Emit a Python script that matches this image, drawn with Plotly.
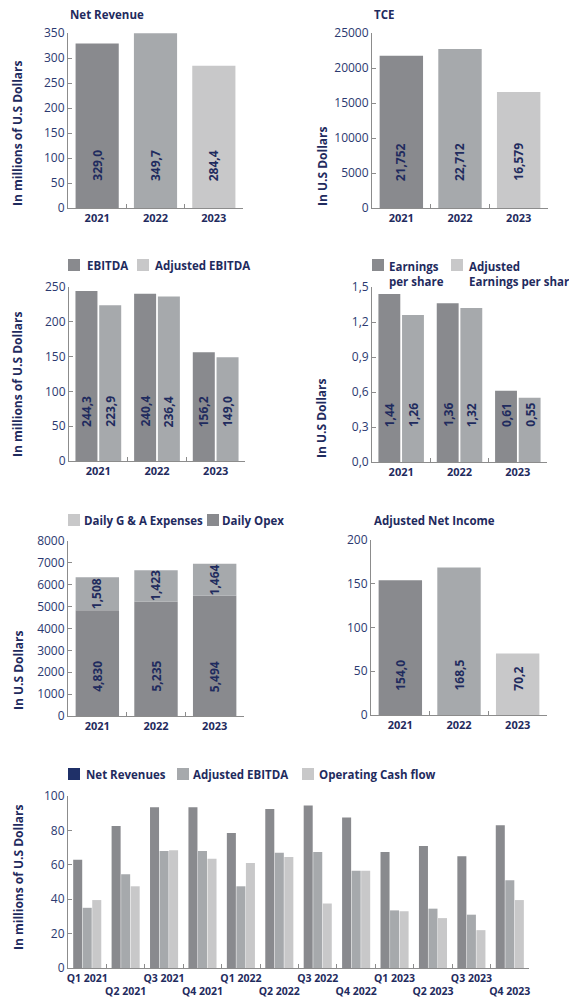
import plotly.graph_objects as go

# ---------------- data ----------------
years = ["2021", "2022", "2023"]
net_revenue = [329.0, 349.7, 284.4]
tce = [21752, 22712, 16579]
ebitda = [244.3, 240.4, 156.2]
adj_ebitda = [223.9, 236.4, 149.0]
eps = [1.44, 1.36, 0.61]
adj_eps = [1.26, 1.32, 0.55]
daily_opex = [4830, 5235, 5494]
daily_ga = [1508, 1423, 1464]
adj_net_income = [154.0, 168.5, 70.2]

quarters = ["Q1 2021", "Q2 2021", "Q3 2021", "Q4 2021",
            "Q1 2022", "Q2 2022", "Q3 2022", "Q4 2022",
            "Q1 2023", "Q2 2023", "Q3 2023", "Q4 2023"]
q_net_rev = [63, 82.5, 93.5, 93.5, 78.5, 92.5, 94.5, 87.5, 67.5, 71, 65, 83]
q_adj_ebitda = [35, 54.5, 68, 68, 47.5, 67, 67.5, 56.5, 33.5, 34.5, 31, 51]
q_ocf = [39.5, 47.5, 68.5, 63.5, 61, 64.5, 37.5, 56.5, 33, 29, 22, 39.5]

nr_ticks = [0, 50, 100, 150, 200, 250, 300, 350]
tce_ticks = [0, 5000, 10000, 15000, 20000, 25000]
ebitda_ticks = [0, 50, 100, 150, 200, 250]
eps_ticks = [0.0, 0.3, 0.6, 0.9, 1.2, 1.5]
eps_ticklabels = ["0,0", "0,3", "0,6", "0,9", "1,2", "1,5"]
opex_ticks = [0, 1000, 2000, 3000, 4000, 5000, 6000, 7000, 8000]
ani_ticks = [0, 50, 100, 150, 200]
q_ticks = [0, 20, 40, 60, 80, 100]

# ---------------- style ----------------
W, H = 569, 998
FONT = "Open Sans"
NAVY = "#1f2b5e"
TICKNAVY = "#2b3970"
AXIS = "#8c8c8c"
DARK = "#898a8e"
MID = "#a6a9ac"
LIGHT = "#c8c8c9"
NAVY_SW = "#1f3068"


def px_x(a, b):
    return [a / W, b / W]


def px_y(top, bottom):
    return [1 - bottom / H, 1 - top / H]


def fx(p):
    return p / W


def fy(p):
    return 1 - p / H


def dec1(v):
    return f"{v:.1f}".replace(".", ",")


def dec2(v):
    return f"{v:.2f}".replace(".", ",")


def thou(v):
    return f"{v:,}"


fig = go.Figure()
annotations = []
shapes = []

panels = {
    1: (px_x(68, 243), px_y(33, 208)),
    2: (px_x(372, 548), px_y(33, 208)),
    3: (px_x(69, 245), px_y(287, 461)),
    4: (px_x(372, 547), px_y(287, 462)),
    5: (px_x(68, 244), px_y(541, 716)),
    6: (px_x(371, 547), px_y(540, 715)),
    7: (px_x(68, 529), px_y(796, 968)),
}


def ax(n):
    return ("x" if n == 1 else f"x{n}"), ("y" if n == 1 else f"y{n}")


def bar_label(n, x, y, text, yshift=0, yanchor="bottom"):
    xr, yr = ax(n)
    annotations.append(dict(
        x=x, y=y, xref=xr, yref=yr, text=text, showarrow=False,
        textangle=-90, yanchor=yanchor, xanchor="center", yshift=yshift,
        font=dict(family=FONT, size=12, color=NAVY, weight="bold")))


SINGLE_W = 0.74

# ---- Panel 1: Net Revenue ----
fig.add_trace(go.Bar(x=years, y=net_revenue, xaxis="x", yaxis="y",
                     marker=dict(color=[DARK, MID, LIGHT], line=dict(width=0)),
                     width=SINGLE_W, showlegend=False))
for i, v in enumerate(net_revenue):
    bar_label(1, i, 0, dec1(v), yshift=25)

# ---- Panel 2: TCE ----
fig.add_trace(go.Bar(x=years, y=tce, xaxis="x2", yaxis="y2",
                     marker=dict(color=[DARK, MID, LIGHT], line=dict(width=0)),
                     width=SINGLE_W, showlegend=False))
for i, v in enumerate(tce):
    bar_label(2, i, 0, thou(v), yshift=25)

# ---- Panel 3: EBITDA ----
GW, G1, G2 = 0.375, -0.39, 0.015
fig.add_trace(go.Bar(x=years, y=ebitda, xaxis="x3", yaxis="y3",
                     marker=dict(color=DARK, line=dict(width=0)),
                     width=GW, offset=G1, showlegend=False))
fig.add_trace(go.Bar(x=years, y=adj_ebitda, xaxis="x3", yaxis="y3",
                     marker=dict(color=MID, line=dict(width=0)),
                     width=GW, offset=G2, showlegend=False))
for i, v in enumerate(ebitda):
    bar_label(3, i + G1 + GW / 2, 0, dec1(v), yshift=32)
for i, v in enumerate(adj_ebitda):
    bar_label(3, i + G2 + GW / 2, 0, dec1(v), yshift=32)

# ---- Panel 4: EPS ----
fig.add_trace(go.Bar(x=years, y=eps, xaxis="x4", yaxis="y4",
                     marker=dict(color=DARK, line=dict(width=0)),
                     width=GW, offset=G1, showlegend=False))
fig.add_trace(go.Bar(x=years, y=adj_eps, xaxis="x4", yaxis="y4",
                     marker=dict(color=MID, line=dict(width=0)),
                     width=GW, offset=G2, showlegend=False))
for i, v in enumerate(eps):
    bar_label(4, i + G1 + GW / 2, 0, dec2(v), yshift=33)
for i, v in enumerate(adj_eps):
    bar_label(4, i + G2 + GW / 2, 0, dec2(v), yshift=33)

# ---- Panel 5: Daily opex stacked ----
fig.add_trace(go.Bar(x=years, y=daily_opex, xaxis="x5", yaxis="y5",
                     marker=dict(color=DARK, line=dict(width=0)),
                     width=SINGLE_W, offset=-SINGLE_W / 2, showlegend=False))
fig.add_trace(go.Bar(x=years, y=daily_ga, base=daily_opex, xaxis="x5", yaxis="y5",
                     marker=dict(color=MID, line=dict(width=0)),
                     width=SINGLE_W, offset=-SINGLE_W / 2, showlegend=False))
for i, v in enumerate(daily_opex):
    bar_label(5, i, 0, thou(v), yshift=22)
for i, (b, v) in enumerate(zip(daily_opex, daily_ga)):
    bar_label(5, i, b + v / 2, thou(v), yanchor="middle")

# ---- Panel 6: Adjusted Net Income ----
fig.add_trace(go.Bar(x=years, y=adj_net_income, xaxis="x6", yaxis="y6",
                     marker=dict(color=[DARK, MID, LIGHT], line=dict(width=0)),
                     width=SINGLE_W, showlegend=False))
for i, v in enumerate(adj_net_income):
    bar_label(6, i, 0, dec1(v), yshift=22)

# ---- Panel 7: quarterly ----
QW = 0.235
QO = [-0.365, -0.117, 0.131]
for vals, col, off in [(q_net_rev, DARK, QO[0]), (q_adj_ebitda, MID, QO[1]), (q_ocf, LIGHT, QO[2])]:
    fig.add_trace(go.Bar(x=quarters, y=vals, xaxis="x7", yaxis="y7",
                         marker=dict(color=col, line=dict(width=0)),
                         width=QW, offset=off, showlegend=False))

# ---------------- axes ----------------
yinfo = {
    1: (nr_ticks, [str(t) for t in nr_ticks]),
    2: (tce_ticks, [str(t) for t in tce_ticks]),
    3: (ebitda_ticks, [str(t) for t in ebitda_ticks]),
    4: (eps_ticks, eps_ticklabels),
    5: (opex_ticks, [str(t) for t in opex_ticks]),
    6: (ani_ticks, [str(t) for t in ani_ticks]),
    7: (q_ticks, [str(t) for t in q_ticks]),
}

layout_axes = {}
for n, (xdom, ydom) in panels.items():
    xr, yr = ax(n)
    xname = "xaxis" if n == 1 else f"xaxis{n}"
    yname = "yaxis" if n == 1 else f"yaxis{n}"
    tv, tt = yinfo[n]
    if n == 7:
        cats = quarters
        xticktext = [q if i % 2 == 0 else "<br>" + q for i, q in enumerate(quarters)]
        xfs = 10.5
    else:
        cats = years
        xticktext = years
        xfs = 11
    layout_axes[xname] = dict(
        domain=xdom, anchor=yr, type="category", range=[-0.5, len(cats) - 0.5],
        showgrid=False, zeroline=False, showline=True, linecolor=AXIS, linewidth=1,
        ticks="inside", tickson="boundaries", ticklen=4, tickcolor=AXIS, tickwidth=1,
        tickmode="array", tickvals=cats, ticktext=xticktext, tickangle=0,
        tickfont=dict(family=FONT, size=xfs, color=NAVY, weight="bold"),
        fixedrange=True)
    layout_axes[yname] = dict(
        domain=ydom, anchor=xr, range=[0, tv[-1]],
        showgrid=False, zeroline=False, showline=True, linecolor=AXIS, linewidth=1,
        ticks="inside", ticklen=4, tickcolor=AXIS, tickwidth=1,
        tickmode="array", tickvals=tv, ticktext=tt,
        tickfont=dict(family=FONT, size=12, color=TICKNAVY),
        fixedrange=True)


# ---------------- titles / y titles ----------------
def paper_text(x, y, text, size=11.5, xanchor="left", yanchor="middle", angle=0):
    annotations.append(dict(
        x=fx(x), y=fy(y), xref="paper", yref="paper", text=text, showarrow=False,
        xanchor=xanchor, yanchor=yanchor, textangle=angle, align="left",
        font=dict(family=FONT, size=size, color=NAVY, weight="bold")))


paper_text(68, 15, "Net Revenue")
paper_text(372, 15, "TCE")
paper_text(372, 520, "Adjusted Net Income")

paper_text(18, 133, "In millions of U.S Dollars", size=12, xanchor="center", angle=-90)
paper_text(322, 166, "In U.S Dollars", size=12, xanchor="center", angle=-90)
paper_text(18, 384, "In millions of U.S Dollars", size=12, xanchor="center", angle=-90)
paper_text(321, 418, "In U.S Dollars", size=12, xanchor="center", angle=-90)
paper_text(18, 670, "In U.S Dollars", size=12, xanchor="center", angle=-90)
paper_text(18, 877, "In millions of U.S Dollars", size=12, xanchor="center", angle=-90)


# ---------------- legends ----------------
def swatch(x0, y0, color, size=12):
    shapes.append(dict(type="rect", xref="paper", yref="paper",
                       x0=fx(x0), x1=fx(x0 + size), y0=fy(y0 + size), y1=fy(y0),
                       fillcolor=color, line=dict(width=0)))


swatch(68, 259, DARK)
paper_text(85, 265, "EBITDA")
swatch(137, 259, LIGHT)
paper_text(153, 265, "Adjusted EBITDA")

swatch(372, 259, DARK)
paper_text(387, 257, "Earnings<br>per share", yanchor="top")
swatch(451, 259, LIGHT)
paper_text(467, 257, "Adjusted<br>Earnings per share", yanchor="top")

swatch(68, 514, LIGHT)
paper_text(82, 520, "Daily G & A Expenses")
swatch(207, 514, DARK)
paper_text(220, 520, "Daily Opex")

swatch(68, 768, NAVY_SW)
paper_text(84, 774, "Net Revenues")
swatch(177, 768, MID)
paper_text(191, 774, "Adjusted EBITDA")
swatch(302, 768, LIGHT)
paper_text(317, 774, "Operating Cash flow")

fig.update_layout(
    autosize=True,
    margin=dict(l=0, r=0, t=0, b=0, pad=0, autoexpand=False),
    paper_bgcolor="white", plot_bgcolor="white",
    barmode="overlay",
    showlegend=False,
    font=dict(family=FONT, color=NAVY),
    annotations=annotations,
    shapes=shapes,
    **layout_axes,
)

# the graph div is pinned to the top-left corner of the 569x998 window
fig.write_html(
    "out.html",
    config={"displayModeBar": False},
    default_width=f"{W}px",
    default_height=f"{H}px; position:fixed; top:0px; left:0px",
)
